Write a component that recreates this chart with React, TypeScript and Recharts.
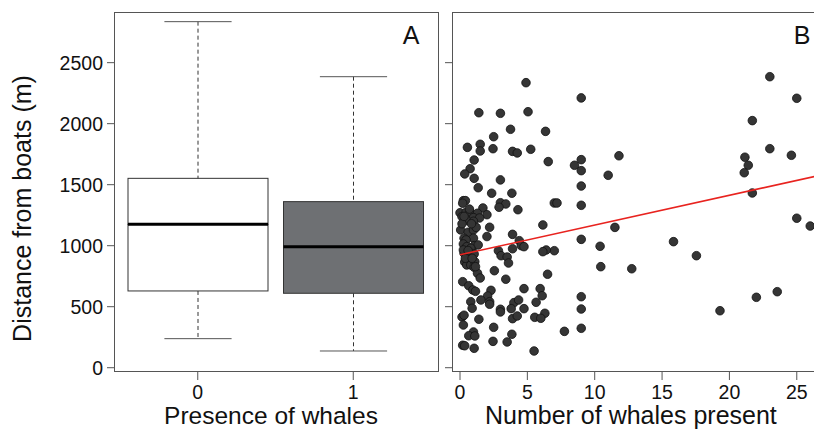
import { Bar, ComposedChart, Scatter, ScatterChart, XAxis, YAxis } from 'recharts'

const FONT = '"Liberation Sans", Arial, Helvetica, sans-serif'
const INK = '#111111'
const LINE = '#555555'

// panel A: box plot stats
const presence = ['0', '1']
const whiskerLow = [238, 137]
const lowerQuartile = [629, 610]
const medians = [1175, 992]
const upperQuartile = [1552, 1361]
const whiskerHigh = [2836, 2385]
const boxFills = ['#ffffff', '#6e7073']

const distanceTicks = [0, 500, 1000, 1500, 2000, 2500]
const countTicks = [0, 5, 10, 15, 20, 25]

// panel B: one entry per sighting
const whaleCount = [
  4.9, 9.0, 1.4, 3.0, 5.05, 3.75, 6.35, 2.5, 0.55, 1.5, 1.5, 2.45, 3.9, 4.25, 5.25, 1.05, 6.55, 0.75, 0.35, 1.05,
  1.35, 3.0, 2.35, 3.85, 8.5, 9.0, 9.0, 9.0, 11.0, 11.8, 9.0, 7.0, 7.2, 0.25, 0.4, 0.2, 3.0, 3.4, 2.9, 4.3,
  1.7, 0.0, 0.45, 0.75, 1.3, 2.0, 0.15, 1.0, 1.45, 0.5, 1.0, 2.2, 0.05, 0.6, 1.0, 2.0, 3.9, 6.15, 11.5, 0.3,
  1.0, 0.45, 0.25, 4.4, 4.55, 4.75, 3.9, 9.0, 10.4, 10.45, 7.0, 6.4, 6.15, 1.05, 1.35, 0.5, 0.8, 2.85, 3.05, 3.5,
  3.6, 0.3, 0.65, 1.05, 0.35, 0.5, 0.8, 1.1, 1.05, 2.55, 1.3, 1.5, 3.4, 6.5, 0.2, 0.65, 0.95, 1.15, 2.3, 2.05,
  4.75, 5.95, 6.1, 9.0, 0.8, 0.9, 1.55, 2.2, 2.2, 4.0, 4.35, 5.65, 3.0, 3.0, 3.8, 4.75, 9.0, 6.3, 5.55, 6.0,
  3.9, 4.25, 0.15, 0.3, 1.4, 0.25, 2.5, 9.0, 7.75, 1.0, 0.65, 1.1, 3.85, 0.2, 0.35, 1.05, 2.45, 3.5, 5.5,
  23.0, 25.0, 21.7, 23.0, 24.6, 21.15, 21.4, 21.1, 21.7, 25.0, 26.0, 12.75, 15.85, 17.55, 19.3, 22.0, 23.55,
  0.4, 0.9, 0.25, 1.15, 0.6, 0.15, 0.7, 1.2, 0.3, 0.85,
]
const distance = [
  2336, 2211, 2090, 2085, 2098, 1954, 1937, 1893, 1806, 1831, 1776, 1795, 1773, 1760, 1790, 1702, 1689, 1631, 1588, 1552,
  1475, 1539, 1430, 1430, 1659, 1705, 1615, 1489, 1577, 1737, 1331, 1350, 1350, 1369, 1369, 1348, 1352, 1342, 1315, 1295,
  1309, 1270, 1274, 1274, 1266, 1254, 1238, 1230, 1227, 1208, 1200, 1151, 1129, 1110, 1128, 1075, 1093, 1170, 1150, 1061,
  1061, 1047, 1014, 1041, 1000, 992, 975, 1052, 995, 828, 959, 965, 951, 1000, 1006, 992, 979, 959, 918, 907,
  858, 938, 938, 932, 866, 842, 842, 869, 823, 795, 774, 735, 725, 766, 705, 672, 637, 626, 634, 588,
  648, 648, 590, 582, 541, 487, 555, 541, 520, 533, 555, 536, 479, 457, 484, 484, 481, 446, 413, 405,
  402, 424, 416, 430, 397, 350, 331, 323, 298, 293, 262, 260, 274, 184, 180, 159, 216, 211, 137,
  2385, 2208, 2025, 1795, 1741, 1725, 1659, 1598, 1432, 1225, 1161, 811, 1033, 918, 467, 577, 623,
  897, 897, 965, 828, 960, 1180, 1300, 1150, 1240, 1180,
]

// fitted line
const fitCount = [0, 27]
const fitDistance = [925, 1584]

const boxData = presence.map((name, i) => ({
  name,
  base: whiskerLow[i],
  lowWhisker: lowerQuartile[i] - whiskerLow[i],
  lowerBox: medians[i] - lowerQuartile[i],
  upperBox: upperQuartile[i] - medians[i],
  highWhisker: whiskerHigh[i] - upperQuartile[i],
}))

const points = whaleCount.map((x, i) => ({ x, y: distance[i] }))
const fit = fitCount.map((x, i) => ({ x, y: fitDistance[i] }))

const Y_DOMAIN: [number, number] = [-27, 2907]

function LowerWhisker({ x = 0, y = 0, width = 0, height = 0 }: any) {
  const cx = x + width / 2
  const cap = width * 0.24
  return (
    <g>
      <line x1={cx} x2={cx} y1={y} y2={y + height} stroke="#333" strokeDasharray="4 3" />
      <line x1={cx - cap} x2={cx + cap} y1={y + height} y2={y + height} stroke={LINE} />
    </g>
  )
}

function UpperWhisker({ x = 0, y = 0, width = 0, height = 0 }: any) {
  const cx = x + width / 2
  const cap = width * 0.24
  return (
    <g>
      <line x1={cx} x2={cx} y1={y} y2={y + height} stroke="#333" strokeDasharray="4 3" />
      <line x1={cx - cap} x2={cx + cap} y1={y} y2={y} stroke={LINE} />
    </g>
  )
}

function BoxPart({ x = 0, y = 0, width = 0, height = 0, payload, median }: any) {
  const fill = boxFills[presence.indexOf(payload?.name)] ?? '#fff'
  return (
    <g>
      <rect x={x} y={y} width={width} height={height} fill={fill} stroke="#333" strokeWidth={1} />
      {median && <line x1={x} x2={x + width} y1={y + height} y2={y + height} stroke="#000" strokeWidth={3} />}
    </g>
  )
}

const tickStyle = { fontSize: 19.5, fill: INK, fontFamily: FONT }

export default function App() {
  return (
    <div
      style={{
        position: 'absolute',
        left: 0,
        top: 0,
        width: 814,
        height: 434,
        overflow: 'hidden',
        background: '#fff',
        fontFamily: FONT,
      }}
    >
      <div style={{ position: 'absolute', left: 0, top: 0 }}>
        <ComposedChart width={440} height={434} data={boxData} margin={{ top: 13, right: 2, bottom: 0, left: 0 }}>
          <XAxis
            dataKey="name"
            type="category"
            height={63}
            padding={{ left: 5, right: 7 }}
            axisLine={false}
            stroke={LINE}
            tickSize={9}
            tickMargin={5}
            tick={tickStyle}
          />
          <YAxis
            type="number"
            domain={Y_DOMAIN}
            ticks={distanceTicks}
            allowDataOverflow
            width={115}
            axisLine={false}
            stroke={LINE}
            tickSize={8}
            tickMargin={4}
            tick={tickStyle}
          />
          <Bar dataKey="base" stackId="box" barSize={140} shape={() => <g />} isAnimationActive={false} />
          <Bar dataKey="lowWhisker" stackId="box" barSize={140} shape={(p: any) => <LowerWhisker {...p} />} isAnimationActive={false} />
          <Bar dataKey="lowerBox" stackId="box" barSize={140} shape={(p: any) => <BoxPart {...p} />} isAnimationActive={false} />
          <Bar dataKey="upperBox" stackId="box" barSize={140} shape={(p: any) => <BoxPart {...p} median />} isAnimationActive={false} />
          <Bar dataKey="highWhisker" stackId="box" barSize={140} shape={(p: any) => <UpperWhisker {...p} />} isAnimationActive={false} />
        </ComposedChart>
      </div>

      <div style={{ position: 'absolute', left: 440, top: 0 }}>
        <ScatterChart width={386} height={434} margin={{ top: 13, right: 0, bottom: 0, left: 0 }}>
          <XAxis
            dataKey="x"
            type="number"
            domain={[-0.52, 27.17]}
            ticks={countTicks}
            allowDataOverflow
            height={63}
            axisLine={false}
            stroke={LINE}
            tickSize={9}
            tickMargin={5}
            tick={tickStyle}
          />
          <YAxis
            dataKey="y"
            type="number"
            domain={Y_DOMAIN}
            ticks={distanceTicks}
            allowDataOverflow
            width={13}
            axisLine={false}
            stroke={LINE}
            tickSize={8}
            tickFormatter={() => ''}
          />
          <Scatter
            data={points}
            isAnimationActive={false}
            shape={(p: any) => <circle cx={p.cx} cy={p.cy} r={4.3} fill="#353535" stroke="#111" strokeWidth={0.8} />}
          />
          <Scatter
            data={fit}
            line={{ stroke: '#e8231f', strokeWidth: 1.6 }}
            shape={() => <g />}
            isAnimationActive={false}
          />
        </ScatterChart>
      </div>

      {/* panel frames */}
      <div
        style={{
          position: 'absolute',
          left: 114,
          top: 12,
          width: 325,
          height: 360,
          border: `1px solid ${LINE}`,
          boxSizing: 'border-box',
        }}
      />
      <div
        style={{
          position: 'absolute',
          left: 452,
          top: 12,
          width: 376,
          height: 360,
          border: `1px solid ${LINE}`,
          boxSizing: 'border-box',
        }}
      />

      <svg width={814} height={434} style={{ position: 'absolute', left: 0, top: 0, pointerEvents: 'none' }}>
        <g fill={INK} fontFamily={FONT}>
          <text x={31} y={208.5} transform="rotate(-90 31 208.5)" textAnchor="middle" fontSize={25}>
            Distance from boats (m)
          </text>
          <text x={271} y={424} textAnchor="middle" fontSize={24.5}>
            Presence of whales
          </text>
          <text x={485} y={424} fontSize={25}>
            Number of whales present
          </text>
          <text x={411} y={44.3} textAnchor="middle" fontSize={25}>
            A
          </text>
          <text x={802} y={44.3} textAnchor="middle" fontSize={25}>
            B
          </text>
        </g>
      </svg>
    </div>
  )
}
